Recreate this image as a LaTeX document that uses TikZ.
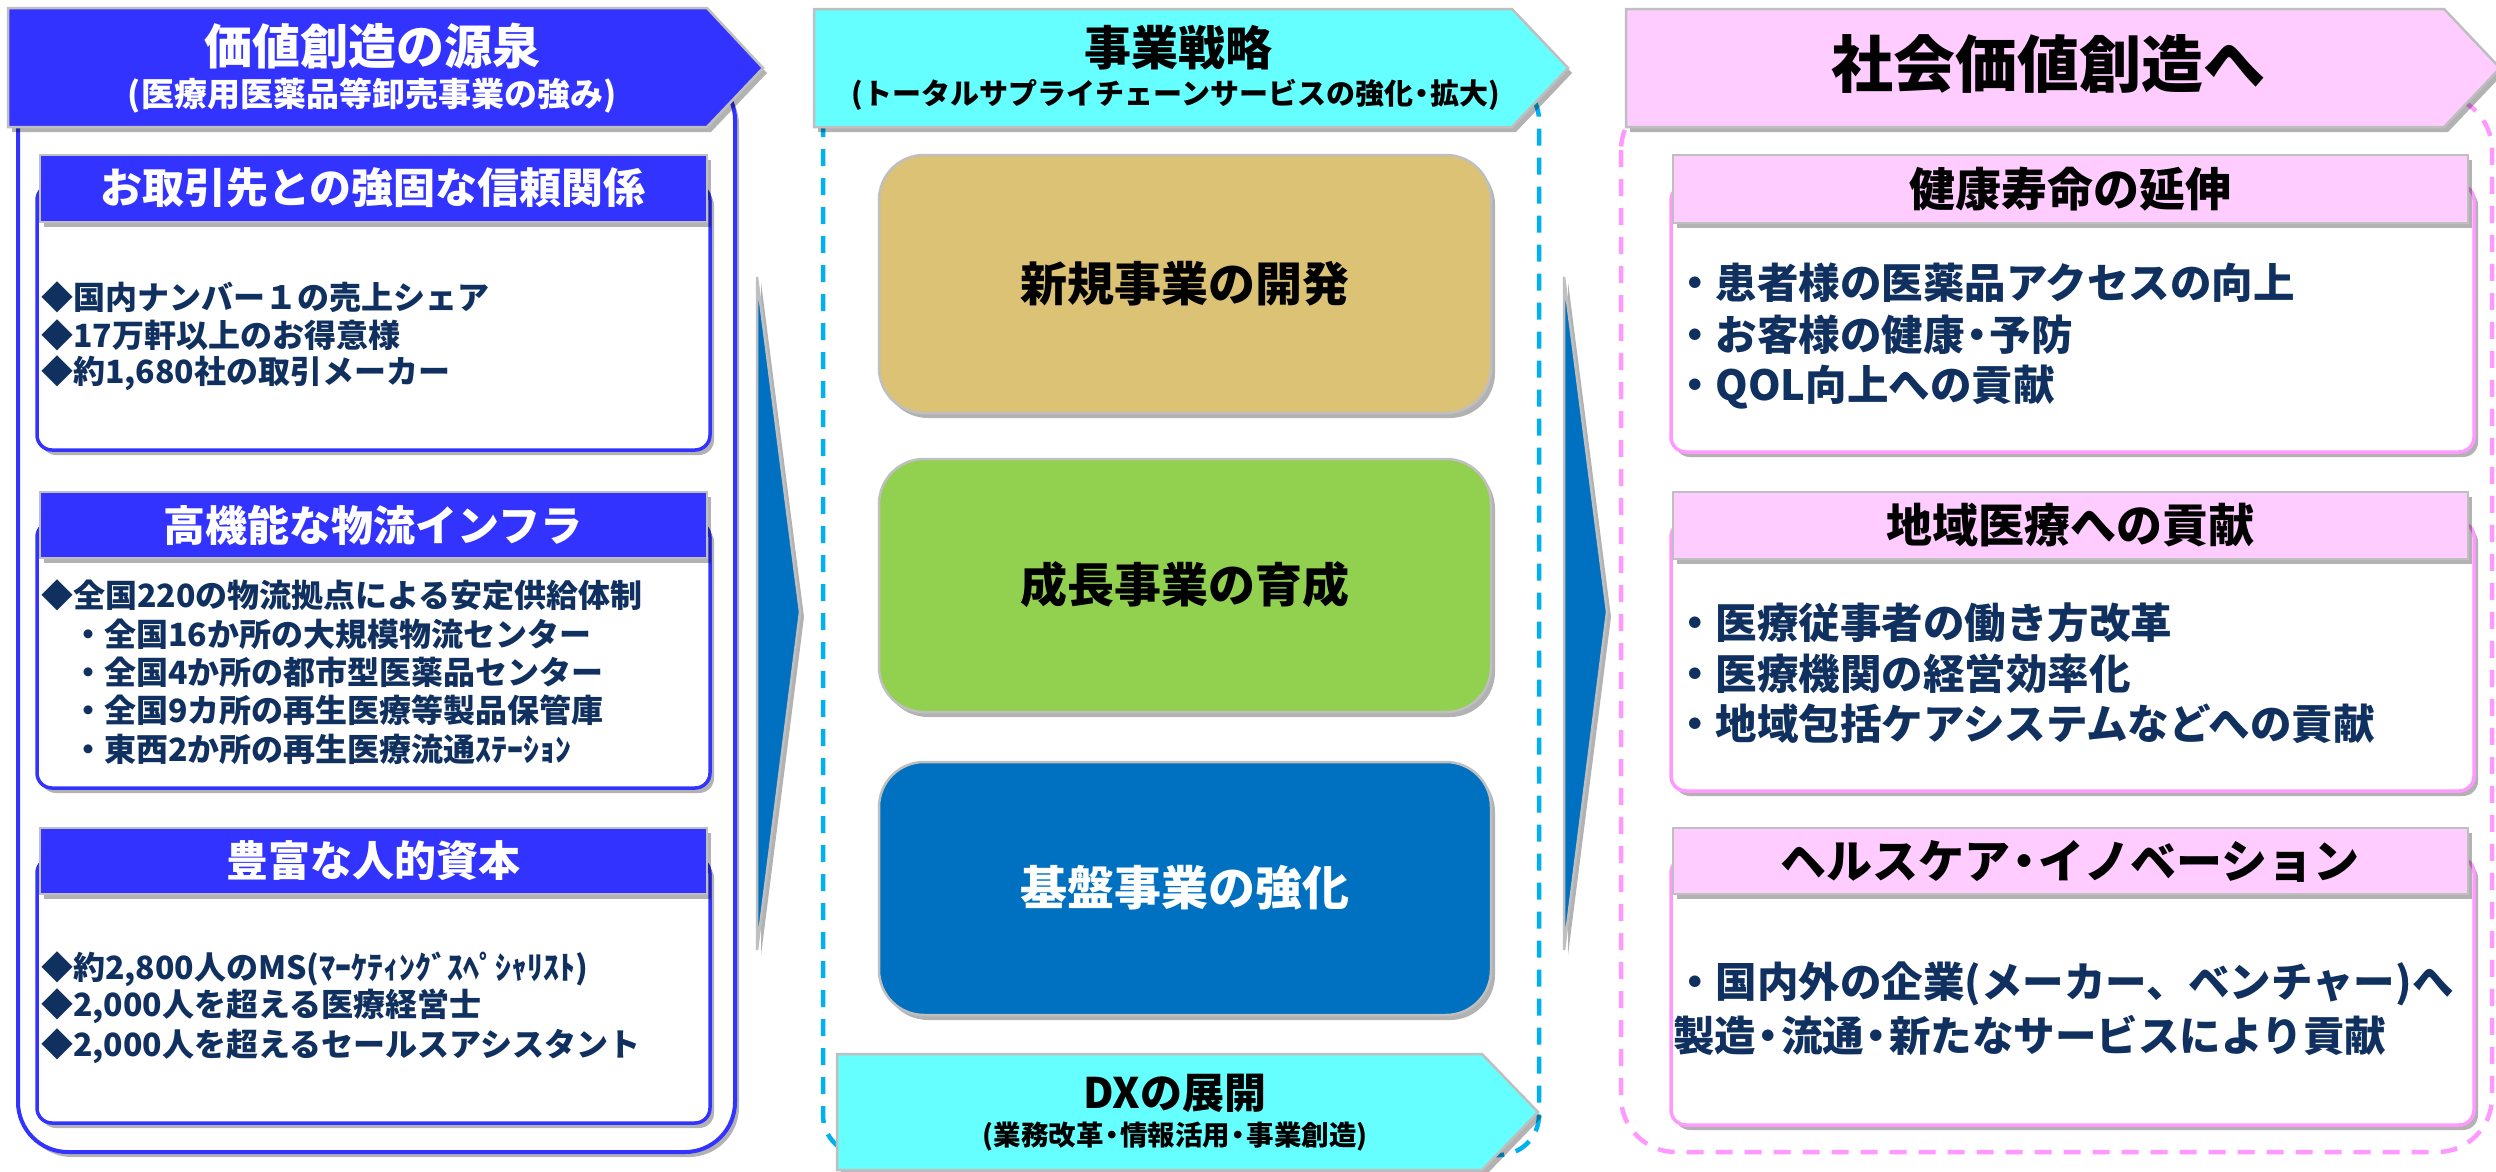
\documentclass[tikz,border=0pt]{standalone}
\usepackage{fontspec}
\setmainfont{Noto Sans CJK JP}
\usetikzlibrary{shadows}
\definecolor{lblue}{HTML}{3333FF}
\definecolor{cyanf}{HTML}{66FFFF}
\definecolor{pinkf}{HTML}{FFCCFF}
\definecolor{pinkl}{HTML}{FF99FF}
\definecolor{dashb}{HTML}{00B0F0}
\definecolor{tanf}{HTML}{DCC275}
\definecolor{greenf}{HTML}{92D050}
\definecolor{bluef}{HTML}{0070C0}
\definecolor{navy}{HTML}{10305F}
\definecolor{grayl}{HTML}{BFBFBF}
\newcommand\fsz[1]{\fontsize{#1}{#1}\selectfont}
\newcommand\ndot{\kern-0.2em・\kern-0.2em}
\begin{document}
\begin{tikzpicture}[x=1pt,y=-1pt,
  shd/.style={drop shadow={shadow xshift=4pt,shadow yshift=-5pt,opacity=0.3,fill=black}},
  gline/.style={draw=grayl,line width=2.5pt},
  lbody/.style={draw=lblue,line width=3.5pt,rounded corners=15pt,fill=white,shd},
  rbody/.style={draw=pinkl,line width=3.5pt,rounded corners=15pt,fill=white,shd},
  lhead/.style={gline,fill=lblue,shd},
  rhead/.style={gline,fill=pinkf,shd},
  mbox/.style={gline,rounded corners=45pt,shd},
  txt/.style={inner sep=0pt},
  ltxt/.style={txt,anchor=west,text=navy,font=\bfseries\fsz{32}},
  rtxt/.style={txt,anchor=west,text=navy,font=\bfseries\fsz{41.5}},
  dsh/.style={line width=4.5pt,dash pattern=on 17pt off 12pt}
]
\fill[white] (0,0) rectangle (2496,1171);
\useasboundingbox (0,0) rectangle (2496,1171);

% ===== left column =====
\draw[lblue,line width=4pt,rounded corners=50pt,fill=white,shd] (18,70) rectangle (735,1152);
\draw[lhead] (8,8) -- (707,8) -- (763,68) -- (707,127) -- (8,127) -- cycle;
\node[txt,text=white,font=\bfseries\fsz{48}] (lt) at (372,46) {価値創造の源泉};
\node[txt,text=white,font=\bfseries\fsz{33}] (ls) at (372,96) {(医療用医薬品等卸売事業の強み)};

\draw[lbody] (37,185) rectangle (710,450);
\draw[lhead] (40,155) rectangle (707,222);
\node[txt,text=white,font=\bfseries\fsz{42}] (lh1) at (373,188) {お取引先との強固な信頼関係};
\node[ltxt] (l1a) at (41,297) {◆国内ナンバー１の売上シェア};
\node[ltxt] (l1b) at (41,335) {◆17万軒以上のお得意様};
\node[ltxt] (l1c) at (41,373) {◆約1,680社の取引メーカー};

\draw[lbody] (37,522) rectangle (710,788);
\draw[lhead] (40,492) rectangle (707,558);
\node[txt,text=white,font=\bfseries\fsz{42}] (lh2) at (373,525) {高機能な物流インフラ};
\node[ltxt] (l2a) at (41,595) {◆全国220の物流拠点による安定供給体制};
\node[ltxt] (l2b) at (72,634) {・全国16か所の大規模物流センター};
\node[ltxt] (l2c) at (72,672) {・全国4か所の都市型医薬品センター};
\node[ltxt] (l2d) at (72,710) {・全国9カ所の再生医療等製品保管庫};
\node[ltxt] (l2e) at (72,749) {・東西2か所の再生医療流通ｽﾃｰｼｮﾝ};

\draw[lbody] (37,858) rectangle (710,1123);
\draw[lhead] (40,828) rectangle (707,894);
\node[txt,text=white,font=\bfseries\fsz{42}] (lh3) at (373,861) {豊富な人的資本};
\node[ltxt] (l3a) at (41,969) {◆約2,800人のMS(ﾏｰｹﾃｨﾝｸﾞｽﾍﾟｼｬﾘｽﾄ)};
\node[ltxt] (l3b) at (41,1006) {◆2,000人を超える医療経営士};
\node[ltxt] (l3c) at (41,1046) {◆2,000人を超えるセールスアシスタント};

% ===== arrows =====
\draw[gline,fill=bluef,shd] (757,277) -- (800,612) -- (757,950) -- cycle;
\draw[gline,fill=bluef,shd] (1564,277) -- (1607,612) -- (1564,950) -- cycle;

% ===== middle column =====
\draw[dashb,dsh,rounded corners=40pt] (823,80) rectangle (1539,1155);
\draw[gline,fill=cyanf,shd] (814,9) -- (1512,9) -- (1568,68) -- (1512,127) -- (814,127) -- cycle;
\node[txt,font=\bfseries\fsz{47}] (mt) at (1178,48) {事業戦略};
\node[txt,font=\bfseries\fsz{29}] (ms) at (1176,95) {(トータルサプライチェーンサービスの強化\ndot 拡大)};

\draw[mbox,fill=tanf] (879,155) rectangle (1491,413);
\node[txt,font=\bfseries\fsz{47}] (m1) at (1185,284) {新規事業の開発};
\draw[mbox,fill=greenf] (879,459) rectangle (1491,712);
\node[txt,font=\bfseries\fsz{47}] (m2) at (1185,585) {成長事業の育成};
\draw[mbox,fill=bluef] (879,762) rectangle (1491,1015);
\node[txt,text=white,font=\bfseries\fsz{47}] (m3) at (1185,888) {基盤事業の強化};

\draw[gline,fill=cyanf,shd] (837,1054) -- (1482,1054) -- (1538,1112) -- (1482,1170) -- (837,1170) -- cycle;
\node[txt,font=\bfseries\fsz{42}] (dt) at (1175,1093) {DXの展開};
\node[txt,font=\bfseries\fsz{27.5}] (ds) at (1175,1137) {(業務改革\ndot 情報活用\ndot 事業創造)};

% ===== right column =====
\draw[pinkl,dsh,rounded corners=55pt] (1621,95) rectangle (2492,1152);
\draw[rhead] (1626,9) -- (2444,9) -- (2500,68) -- (2444,127) -- (1626,127) -- cycle;
\node[txt,font=\bfseries\fsz{62}] (rt) at (2048,64) {社会価値創造へ};

\draw[rbody] (1671,185) rectangle (2474,452);
\draw[rhead] (1673,155) rectangle (2468,223);
\node[txt,font=\bfseries\fsz{46}] (rh1) at (2070,189) {健康寿命の延伸};
\node[rtxt] (r1a) at (1674,283) {・患者様の医薬品アクセスの向上};
\node[rtxt] (r1b) at (1674,335) {・お客様の健康\ndot 予防};
\node[rtxt] (r1c) at (1674,387) {・QOL向上への貢献};

\draw[rbody] (1671,522) rectangle (2474,791);
\draw[rhead] (1673,492) rectangle (2468,559);
\node[txt,font=\bfseries\fsz{46}] (rh2) at (2070,525) {地域医療への貢献};
\node[rtxt] (r2a) at (1674,623) {・医療従事者の働き方改革};
\node[rtxt] (r2b) at (1674,674) {・医療機関の経営効率化};
\node[rtxt] (r2c) at (1674,724) {・地域包括ケアシステムなどへの貢献};

\draw[rbody] (1671,858) rectangle (2474,1125);
\draw[rhead] (1673,828) rectangle (2468,894);
\node[txt,font=\bfseries\fsz{46}] (rh3) at (2070,861) {ヘルスケア\ndot イノベーション};
\node[rtxt] (r3a) at (1674,984) {・国内外の企業(メーカー、ベンチャー)へ};
\node[rtxt] (r3b) at (1673,1035) {製造\ndot 流通\ndot 新たなサービスにより貢献};
\end{tikzpicture}
\end{document}
